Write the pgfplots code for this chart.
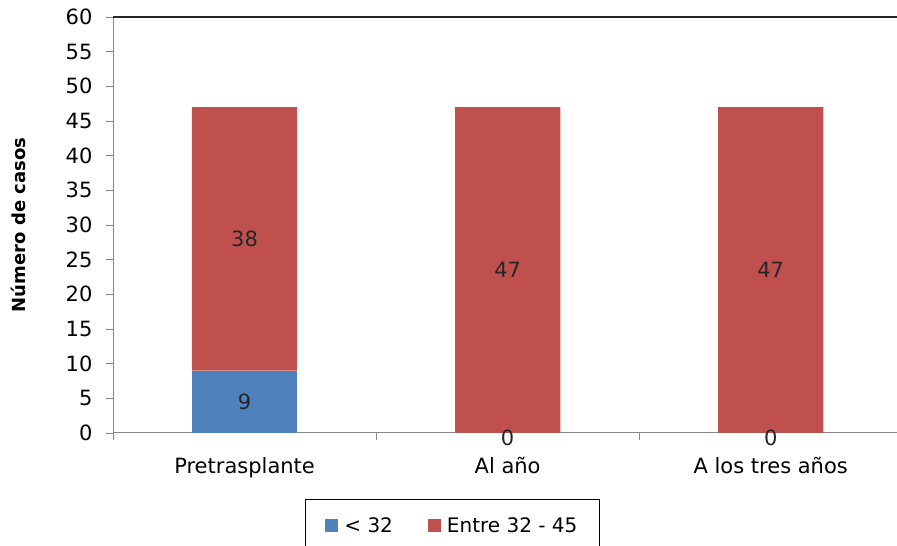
\documentclass[border=0pt]{standalone}
\usepackage{pgfplots}
\pgfplotsset{compat=1.18}
\usepackage{fontspec}
\setmainfont{DejaVu Sans}
\definecolor{cblue}{HTML}{4F81BD}
\definecolor{cred}{HTML}{C0504D}
\definecolor{axgray}{HTML}{868686}
\begin{document}
\begin{tikzpicture}[x=1pt,y=1pt]
\path[use as bounding box] (0,0) rectangle (897,546);
\pgfplotsset{base/.style={
  at={(113pt,113pt)}, anchor=south west,
  scale only axis, width=784pt, height=416pt,
  xmin=-0.5, xmax=2.48, ymin=0, ymax=60}}
\begin{axis}[base,
  ybar stacked, bar width=0.4,
  axis x line=bottom, axis y line=left,
  axis line style={-, draw=axgray, line width=1pt},
  tick align=outside, major tick length=7pt,
  tick style={draw=axgray, line width=0.8pt},
  ytick={0,5,...,60},
  yticklabel style={font=\fontsize{21}{23}\selectfont, xshift=-10pt},
  /pgf/number format/assume math mode=true,
  xtick={-0.5,0.5,1.5,2.5}, xticklabels={},
  extra x ticks={0,1,2},
  extra x tick labels={Pretrasplante, Al año, A los tres años},
  extra x tick style={major tick length=0pt,
     tick label style={font=\fontsize{21}{23}\selectfont, yshift=-21pt}},
  ylabel={\textbf{Número de casos}},
  every axis y label/.style={at={(axis description cs:-0.1212,0.5)}, rotate=90, anchor=center,
     font=\fontsize{18}{20}\selectfont},
  legend columns=2,
  legend style={at={(0.2449,-0.1587)}, anchor=north west, draw=black, line width=0.8pt,
    font=\fontsize{20}{22}\selectfont, inner xsep=20pt, inner ysep=16pt,
    /tikz/every odd column/.append style={column sep=4pt},
    /tikz/every even column/.append style={column sep=33pt}},
  legend image code/.code={\fill[#1,draw=none] (0pt,-6.5pt) rectangle (13pt,6.5pt);},
  after end axis/.code={\draw[black!85, line width=1.6pt] (rel axis cs:0,1) -- (rel axis cs:1,1);},
]
\addplot[fill=cblue, draw=none] coordinates {(0,9) (1,0) (2,0)};
\addlegendentry{< 32}
\addplot[fill=cred, draw=none] coordinates {(0,38) (1,47) (2,47)};
\addlegendentry{Entre 32 - 45}
\end{axis}
\begin{axis}[base, hide axis, clip=false]
\addplot[draw=none, mark=none, nodes near coords, point meta=explicit symbolic,
  every node near coord/.append style={anchor=center, text=black!85, font=\fontsize{21}{23}\selectfont}]
  coordinates {(0,4.5)[9] (0,28)[38] (1,23.5)[47] (2,23.5)[47] (1,-0.75)[0] (2,-0.75)[0]};
\end{axis}
\end{tikzpicture}
\end{document}
